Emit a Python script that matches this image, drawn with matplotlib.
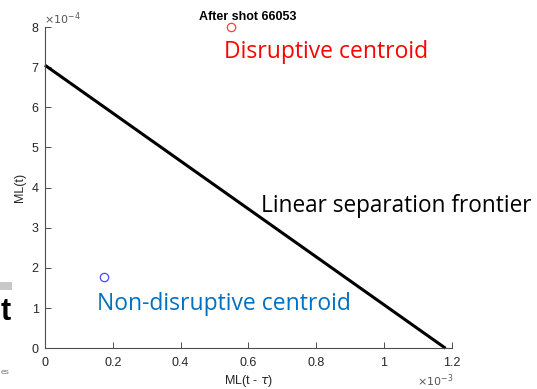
import matplotlib
matplotlib.use("Agg")
import matplotlib.pyplot as plt
from matplotlib.patches import Rectangle

# Data
frontier_x = [0.0, 1.182e-3]
frontier_y = [7.05e-4, 0.0]
disruptive_centroid = (0.55e-3, 7.99e-4)
nondisruptive_centroid = (0.175e-3, 1.77e-4)
x_ticks = [0, 0.2, 0.4, 0.6, 0.8, 1.0, 1.2]
y_ticks = [0, 1, 2, 3, 4, 5, 6, 7, 8]

W, H = 537, 389
fig = plt.figure(figsize=(W / 100, H / 100), dpi=100)
ax = fig.add_axes([44.9 / W, 1 - 348.3 / H, (451.7 - 44.9) / W, (348.3 - 27) / H])

ax.plot(frontier_x, frontier_y, color="black", lw=2.2, solid_capstyle="butt", clip_on=False)
ax.plot(*disruptive_centroid, "o", mfc="none", mec="#ff4040", ms=6, mew=0.9, clip_on=False)
ax.plot(*nondisruptive_centroid, "o", mfc="none", mec="#4848ff", ms=6, mew=0.9, clip_on=False)

ax.set_xlim(0, 1.2e-3)
ax.set_ylim(0, 8e-4)
ax.set_xticks([v * 1e-3 for v in x_ticks])
ax.set_xticklabels(["0", "0.2", "0.4", "0.6", "0.8", "1", "1.2"])
ax.set_yticks([v * 1e-4 for v in y_ticks])
ax.set_yticklabels([str(v) for v in y_ticks])

gray = "#262626"
for s in ["top", "right"]:
    ax.spines[s].set_visible(False)
for s in ["left", "bottom"]:
    ax.spines[s].set_color("#4d4d4d")
    ax.spines[s].set_linewidth(0.8)
ax.tick_params(direction="in", length=4, width=0.7, color="#4d4d4d",
               labelcolor=gray, labelsize=9)
ax.tick_params(axis="x", pad=6.5)
ax.tick_params(axis="y", pad=4.5)
for lab in ax.get_xticklabels() + ax.get_yticklabels():
    lab.set_fontfamily("Liberation Sans")

ax.set_xlabel(r"ML(t - $\tau$)", fontsize=9, color=gray, family="Liberation Sans", labelpad=3)
ax.set_ylabel("ML(t)", fontsize=9, color=gray, family="Liberation Sans", labelpad=4)

fig.text(248 / W, 1 - 17 / H, "After shot 66053", ha="center", va="center",
         fontsize=9, fontweight="bold", family="Liberation Sans")
fig.text(44 / W, 1 - 19 / H, r"$\times10^{-4}$", ha="left", va="center",
         fontsize=8, color="#555555", family="Liberation Sans")
fig.text(417 / W, 1 - 381 / H, r"$\times10^{-3}$", ha="left", va="center",
         fontsize=8, color="#555555", family="Liberation Sans")

fig.text(224 / W, 1 - 58 / H, "Disruptive centroid", ha="left", va="baseline",
         fontsize=16.5, color="#ff0000", family="Open Sans")
fig.text(261 / W, 1 - 211.5 / H, "Linear separation frontier", ha="left", va="baseline",
         fontsize=16.3, color="black", family="Open Sans")
fig.text(97 / W, 1 - 310 / H, "Non-disruptive centroid", ha="left", va="baseline",
         fontsize=16.5, color="#0070c0", family="Open Sans")

# partial image fragment at the left edge
fig.patches.append(Rectangle((0, 1 - 290 / H), 12 / W, 8 / H, transform=fig.transFigure,
                             facecolor="#c8c8c8", edgecolor="none"))
fig.text(0.5 / W, 1 - 312 / H, "t", ha="left", va="center", fontsize=22,
         fontweight="bold", family="Liberation Sans")
fig.text(0.5 / W, 1 - 372 / H, "es", ha="left", va="center", fontsize=6,
         color="#777777", family="Liberation Sans")

fig.savefig("out.png", dpi=100)
